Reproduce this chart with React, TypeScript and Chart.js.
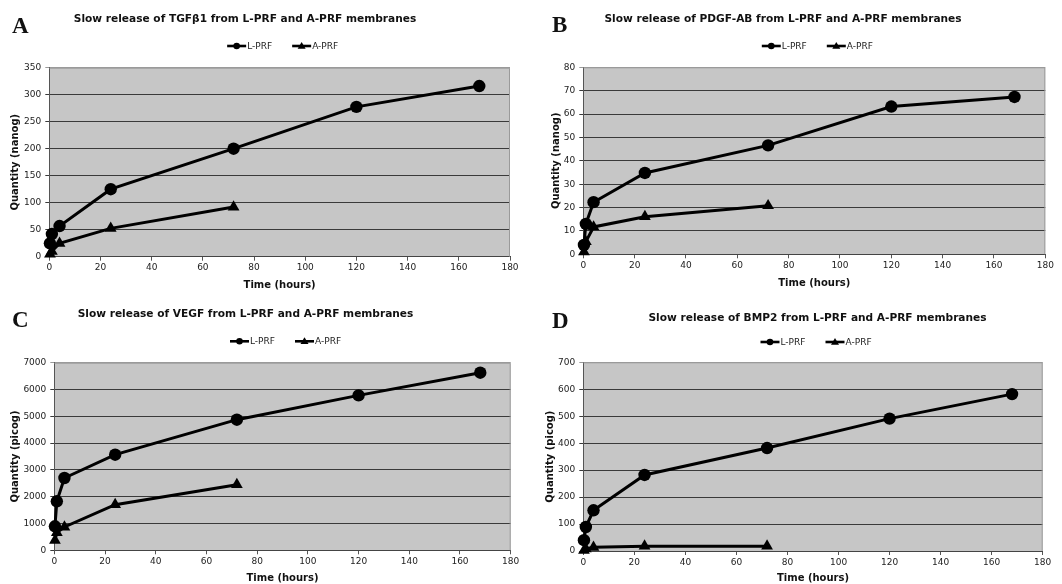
import React, { useEffect, useRef } from "react";
import { Chart, registerables } from "chart.js";

Chart.register(...registerables);

// ---------- data ----------
const hoursLPRF = [0.25, 1, 4, 24, 72, 120, 168];
const hoursAPRF = [0.25, 1, 4, 24, 72];

const tgfLPRF = [24.7, 42, 56.8, 125, 200, 277.5, 316];
const tgfAPRF = [5, 10, 24.7, 52.5, 92];

const pdgfLPRF = [4, 13, 22.3, 34.8, 46.6, 63.2, 67.3];
const pdgfAPRF = [1.1, 5.4, 11.7, 16.1, 20.8];

const vegfLPRF = [895, 1828, 2698, 3568, 4874, 5781, 6627];
const vegfAPRF = [373, 659, 870, 1703, 2449];

const bmpLPRF = [40, 89, 151, 282, 382, 491, 582];
const bmpAPRF = [2, 8, 14, 18, 18];

const seriesNames = ["L-PRF", "A-PRF"];
const panelLetters = ["A", "B", "C", "D"];
const panelTitles = [
  "Slow release of TGFβ1 from L-PRF and A-PRF membranes",
  "Slow release of PDGF-AB from L-PRF and A-PRF membranes",
  "Slow release of VEGF from L-PRF and A-PRF membranes",
  "Slow release of BMP2 from L-PRF and A-PRF membranes",
];
const yTitles = ["Quantity (nanog)", "Quantity (nanog)", "Quantity (picog)", "Quantity (picog)"];
const xTitle = "Time (hours)";
const yMaxes = [350, 80, 7000, 700];
const ySteps = [50, 10, 1000, 100];
const xMax = 180;
const xStep = 20;
const lprfValues = [tgfLPRF, pdgfLPRF, vegfLPRF, bmpLPRF];
const aprfValues = [tgfAPRF, pdgfAPRF, vegfAPRF, bmpAPRF];

// ---------- layout (positions only) ----------
const W = 531;
const H = 292;
const layouts = [
  { left: 0, top: 0, area: { l: 49.3, t: 67.7, r: 510, b: 256.7 }, titleX: 245, titleY: 19, letterX: 12, letterY: 27.5, legendY: 46, yTitlePad: 9, xTitlePad: 1 },
  { left: 531, top: 0, area: { l: 52.3, t: 67.3, r: 514.3, b: 254.3 }, titleX: 252, titleY: 19, letterX: 21, letterY: 26.5, legendY: 46, yTitlePad: 19, xTitlePad: 3 },
  { left: 0, top: 292, area: { l: 54.3, t: 70.7, r: 510.7, b: 258.3 }, titleX: 245.5, titleY: 22.3, letterX: 12, letterY: 29, legendY: 49.3, yTitlePad: 9, xTitlePad: 0 },
  { left: 531, top: 292, area: { l: 52.3, t: 70.3, r: 511.7, b: 259 }, titleX: 286.5, titleY: 26, letterX: 21, letterY: 30, legendY: 50, yTitlePad: 13, xTitlePad: 0 },
];

const FONT = "'DejaVu Sans', Verdana, sans-serif";
const PLOT_BG = "#c6c6c6";

const decorPlugin = {
  id: "decor",
  beforeDraw(chart: any) {
    const { ctx, chartArea: a } = chart;
    ctx.save();
    ctx.fillStyle = PLOT_BG;
    ctx.fillRect(a.left, a.top, a.right - a.left, a.bottom - a.top);
    ctx.restore();
  },
  beforeDatasetsDraw(chart: any) {
    const { ctx, chartArea: a } = chart;
    ctx.save();
    ctx.strokeStyle = "#9a9a9a";
    ctx.lineWidth = 1;
    ctx.beginPath();
    ctx.moveTo(a.left, a.top + 0.5);
    ctx.lineTo(a.right - 0.5, a.top + 0.5);
    ctx.lineTo(a.right - 0.5, a.bottom);
    ctx.stroke();
    ctx.restore();
  },
  afterDraw(chart: any, _args: any, opts: any) {
    const { ctx, chartArea: a } = chart;
    ctx.save();
    // panel letter
    ctx.fillStyle = "#111";
    ctx.font = "bold 23px 'Liberation Serif', 'Times New Roman', serif";
    ctx.textBaseline = "middle";
    ctx.textAlign = "left";
    ctx.fillText(opts.letter, opts.letterX, opts.letterY);
    // title
    ctx.font = `bold 10.6px ${FONT}`;
    ctx.textAlign = "center";
    ctx.fillText(opts.title, opts.titleX, opts.titleY);
    // legend
    const cx = (a.left + a.right) / 2;
    const s = cx - 52.5;
    const y = opts.legendY;
    ctx.font = `9px ${FONT}`;
    ctx.textAlign = "left";
    const items = [
      { x: s, style: "circle" },
      { x: s + 65, style: "triangle" },
    ];
    items.forEach((it, i) => {
      ctx.strokeStyle = "#000";
      ctx.lineWidth = 2.6;
      ctx.beginPath();
      ctx.moveTo(it.x, y);
      ctx.lineTo(it.x + 19, y);
      ctx.stroke();
      ctx.fillStyle = "#000";
      const mx = it.x + 9.5;
      ctx.beginPath();
      if (it.style === "circle") {
        ctx.arc(mx, y, 3.3, 0, Math.PI * 2);
      } else {
        ctx.moveTo(mx, y - 4);
        ctx.lineTo(mx + 4, y + 2.8);
        ctx.lineTo(mx - 4, y + 2.8);
        ctx.closePath();
      }
      ctx.fill();
      ctx.fillStyle = "#222";
      ctx.fillText(opts.names[i], it.x + 20, y + 0.5);
    });
    ctx.restore();
  },
};

function Panel({ idx }: { idx: number }) {
  const ref = useRef<HTMLCanvasElement | null>(null);
  const lay = layouts[idx];

  useEffect(() => {
    if (!ref.current) return;
    const yMax = yMaxes[idx];
    const chart = new Chart(ref.current, {
      type: "line",
      data: {
        datasets: [
          {
            label: seriesNames[0],
            data: hoursLPRF.map((x, i) => ({ x, y: lprfValues[idx][i] })),
            borderColor: "#000",
            backgroundColor: "#000",
            borderWidth: 3,
            pointStyle: "circle",
            pointRadius: 6.2,
            pointBackgroundColor: "#000",
            pointBorderColor: "#000",
            pointBorderWidth: 0,
            tension: 0,
            clip: false as any,
          },
          {
            label: seriesNames[1],
            data: hoursAPRF.map((x, i) => ({ x, y: aprfValues[idx][i] })),
            borderColor: "#000",
            backgroundColor: "#000",
            borderWidth: 3,
            pointStyle: "triangle",
            pointRadius: 6.8,
            pointBackgroundColor: "#000",
            pointBorderColor: "#000",
            pointBorderWidth: 0,
            tension: 0,
            clip: false as any,
          },
        ],
      },
      options: {
        responsive: false,
        animation: false,
        events: [],
        layout: {
          padding: { left: 0, top: lay.area.t, right: W - lay.area.r, bottom: 0 },
        },
        plugins: {
          legend: { display: false },
          title: { display: false },
          tooltip: { enabled: false },
          decor: {
            letter: panelLetters[idx],
            title: panelTitles[idx],
            names: seriesNames,
            letterX: lay.letterX,
            letterY: lay.letterY,
            titleX: lay.titleX,
            titleY: lay.titleY,
            legendY: lay.legendY,
          },
        } as any,
        scales: {
          x: {
            type: "linear",
            min: 0,
            max: xMax,
            afterFit: (s: any) => {
              s.height = H - lay.area.b;
            },
            ticks: {
              stepSize: xStep,
              color: "#222",
              padding: 2,
              font: { family: FONT, size: 9 },
              maxRotation: 0,
              callback: (v: any) => String(v),
            },
            grid: { drawOnChartArea: false, drawTicks: true, tickLength: 4, color: "#555" },
            border: { color: "#444", width: 1 },
            title: {
              display: true,
              text: xTitle,
              color: "#111",
              font: { family: FONT, size: 10, weight: "bold" },
              padding: { top: 0, bottom: lay.xTitlePad },
            },
          },
          y: {
            type: "linear",
            min: 0,
            max: yMax,
            afterFit: (s: any) => {
              s.width = lay.area.l;
            },
            ticks: {
              stepSize: ySteps[idx],
              color: "#222",
              padding: 4,
              font: { family: FONT, size: 9 },
              callback: (v: any) => String(v),
            },
            grid: {
              drawTicks: true,
              tickLength: 4,
              color: (c: any) => (c.tick && c.tick.value === yMax ? "#9a9a9a" : "#3a3a3a"),
              lineWidth: 1,
            },
            border: { color: "#555", width: 1 },
            title: {
              display: true,
              text: yTitles[idx],
              color: "#111",
              font: { family: FONT, size: 10, weight: "bold" },
              padding: { top: lay.yTitlePad, bottom: 0 },
            },
          },
        },
      } as any,
      plugins: [decorPlugin as any],
    });
    return () => chart.destroy();
  }, [idx]);

  return (
    <canvas
      ref={ref}
      width={W}
      height={H}
      style={{ position: "absolute", left: lay.left, top: lay.top, width: W, height: H }}
    />
  );
}

export default function App() {
  return (
    <div
      style={{
        position: "absolute",
        left: 0,
        top: 0,
        width: 1062,
        height: 584,
        background: "#fff",
        overflow: "hidden",
      }}
    >
      {[0, 1, 2, 3].map((i) => (
        <Panel key={i} idx={i} />
      ))}
    </div>
  );
}
